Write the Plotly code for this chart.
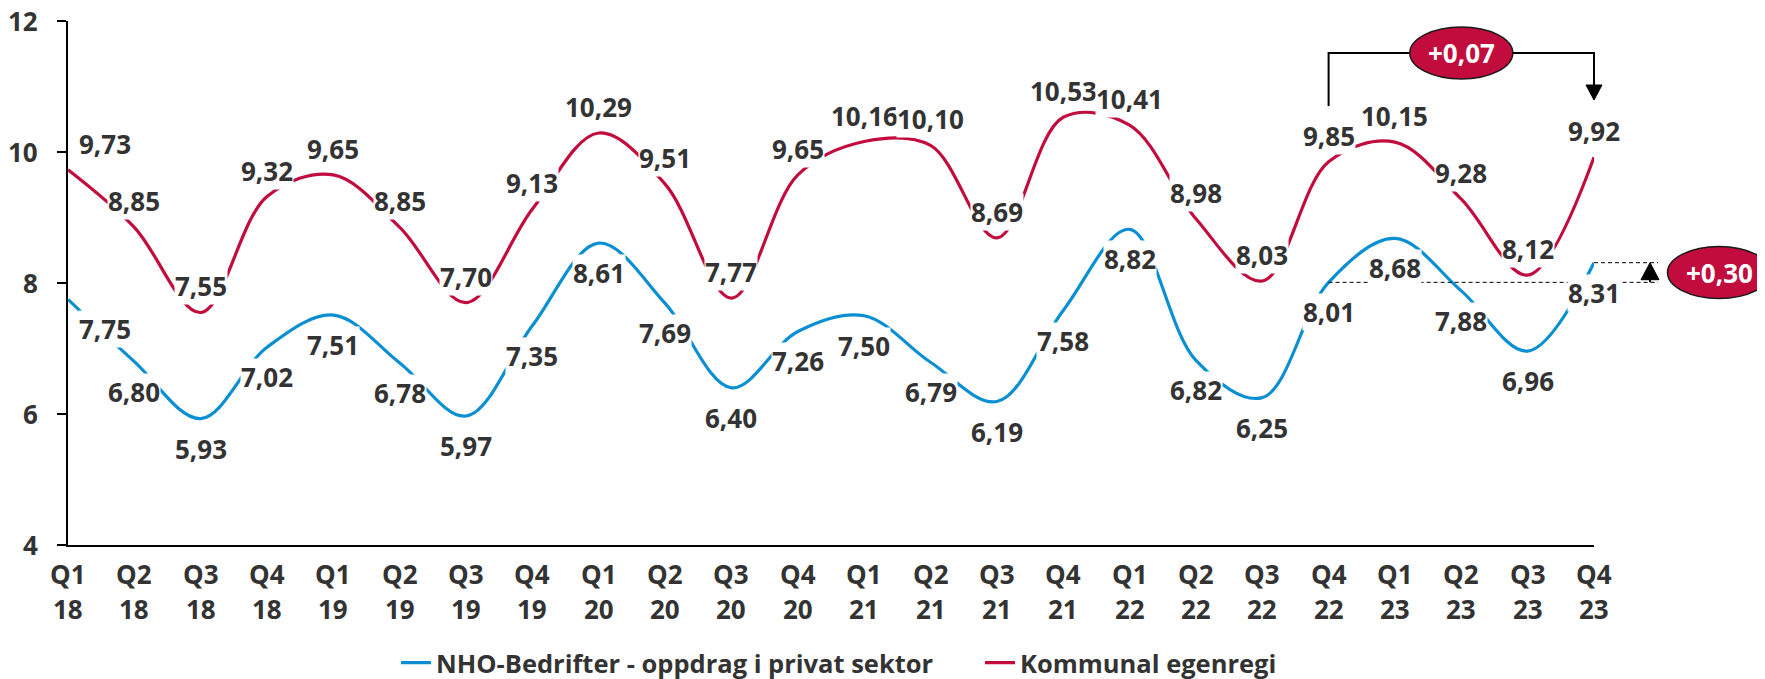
import plotly.graph_objects as go

# ---------------- data ----------------
quarters = ["Q1", "Q2", "Q3", "Q4"]
years = ["18", "19", "20", "21", "22", "23"]
tick_q = [q for y in years for q in quarters]
tick_y = [y for y in years for q in quarters]

nho_privat = [7.75, 6.80, 5.93, 7.02, 7.51, 6.78, 5.97, 7.35, 8.61, 7.69, 6.40, 7.26,
              7.50, 6.79, 6.19, 7.58, 8.82, 6.82, 6.25, 8.01, 8.68, 7.88, 6.96, 8.31]
kommunal = [9.73, 8.85, 7.55, 9.32, 9.65, 8.85, 7.70, 9.13, 10.29, 9.51, 7.77, 9.65,
            10.16, 10.10, 8.69, 10.53, 10.41, 8.98, 8.03, 9.85, 10.15, 9.28, 8.12, 9.92]

series_names = ["NHO-Bedrifter - oppdrag i privat sektor", "Kommunal egenregi"]
y_ticks = [4, 6, 8, 10, 12]

# ---------------- styles ----------------
BLUE = "#0A8FD2"
RED = "#C20C3E"
TXT = "#333333"
FONT = "Open Sans"
W, H = 1765, 679
OFF = 8                       # page body margin
SCR_L, SCR_T = 68, 21         # plot area corner on screen
PW, PH = 1526, 524
ML, MT = SCR_L - OFF, SCR_T - OFF
MR, MB = W - ML - PW, H - MT - PH

xs = list(range(len(tick_q)))
X0, X1 = 0, len(xs) - 1
Y0, Y1 = y_ticks[0], y_ticks[-1]


def fmt(v):
    return f"{v:.2f}".replace(".", ",")


def px(x, dx=0.0):
    return (x - X0) / (X1 - X0) + dx / PW


def py(v, dy=0.0):
    return (v - Y0) / (Y1 - Y0) + dy / PH


def x_from_pixel(p):
    return X0 + (p - SCR_L) / PW * (X1 - X0)


def v_from_pixel(p):
    return Y1 - (p - SCR_T) / PH * (Y1 - Y0)


fig = go.Figure()
fig.add_trace(go.Scatter(x=xs, y=nho_privat, name=series_names[0], mode="lines",
                         line=dict(color=BLUE, width=3.2, shape="spline", smoothing=1.0)))
fig.add_trace(go.Scatter(x=xs, y=kommunal, name=series_names[1], mode="lines",
                         line=dict(color=RED, width=3.2, shape="spline", smoothing=1.0)))

label_font = dict(family=FONT, size=26, color=TXT, weight="bold")
annotations = []
# data labels
for i, (b, r) in enumerate(zip(nho_privat, kommunal)):
    xsh = 37 if i == 0 else 0
    annotations.append(dict(x=i, y=r, xref="x", yref="y", text=fmt(r), showarrow=False,
                            xanchor="center", yanchor="middle",
                            yshift=26, xshift=xsh, bgcolor="white", borderpad=0, font=label_font))
    annotations.append(dict(x=i, y=b, xref="x", yref="y", text=fmt(b), showarrow=False,
                            xanchor="center", yanchor="middle",
                            yshift=-30, xshift=xsh, bgcolor="white", borderpad=0, font=label_font))

# category labels (two rows)
for i, (q, y) in enumerate(zip(tick_q, tick_y)):
    annotations.append(dict(x=i, y=0, xref="x", yref="paper", text=q, showarrow=False,
                            xanchor="center", yanchor="middle", yshift=-29, font=label_font))
    annotations.append(dict(x=i, y=0, xref="x", yref="paper", text=y, showarrow=False,
                            xanchor="center", yanchor="middle", yshift=-64, font=label_font))

# value axis labels
for v in y_ticks:
    annotations.append(dict(x=0, y=v, xref="paper", yref="y", text=str(v), showarrow=False,
                            xanchor="right", yanchor="middle", xshift=-28, font=label_font))

shapes = []
# ---- bracket for kommunal change (Q4 22 -> Q4 23) ----
i_a, i_b = 19, 23
bracket_v = v_from_pixel(53)
left_end_v = v_from_pixel(106)
tip_v = v_from_pixel(100)
arrow_h, arrow_w = 15, 16
shapes.append(dict(type="path", xref="paper", yref="paper",
                   path=f"M{px(i_a)},{py(left_end_v)} L{px(i_a)},{py(bracket_v)} "
                        f"L{px(i_b)},{py(bracket_v)} L{px(i_b)},{py(tip_v, arrow_h)}",
                   line=dict(color="black", width=2), layer="above"))
shapes.append(dict(type="path", xref="paper", yref="paper",
                   path=f"M{px(i_b, -arrow_w / 2)},{py(tip_v, arrow_h)} L{px(i_b, arrow_w / 2)},{py(tip_v, arrow_h)} "
                        f"L{px(i_b)},{py(tip_v)} Z",
                   fillcolor="black", line=dict(color="black", width=1), layer="above"))
mid = (i_a + i_b) / 2
EW, EH = 103, 52
shapes.append(dict(type="circle", xref="paper", yref="paper",
                   x0=px(mid, -EW / 2), x1=px(mid, EW / 2),
                   y0=py(bracket_v, -EH / 2), y1=py(bracket_v, EH / 2),
                   fillcolor=RED, line=dict(color="#1a1a1a", width=1.5), layer="above"))
d_red = kommunal[i_b] - kommunal[i_a]
annotations.append(dict(x=px(mid), y=py(bracket_v), xref="paper", yref="paper",
                        xanchor="center", yanchor="middle",
                        text=("+" if d_red >= 0 else "") + fmt(d_red), showarrow=False,
                        font=dict(family=FONT, size=26, color="white", weight="bold")))

# ---- dashed guides for NHO change ----
x_right = x_from_pixel(1658)
x_arrow = x_from_pixel(1650)
shapes.append(dict(type="line", xref="paper", yref="paper",
                   x0=px(i_a), x1=px(x_right), y0=py(nho_privat[i_a]), y1=py(nho_privat[i_a]),
                   line=dict(color="black", width=1, dash="4px,3px"), layer="above"))
shapes.append(dict(type="line", xref="paper", yref="paper",
                   x0=px(i_b), x1=px(x_right), y0=py(nho_privat[i_b]), y1=py(nho_privat[i_b]),
                   line=dict(color="black", width=1, dash="4px,3px"), layer="above"))
shapes.append(dict(type="line", xref="paper", yref="paper",
                   x0=px(x_arrow), x1=px(x_arrow), y0=py(nho_privat[i_a]), y1=py(nho_privat[i_b], -16),
                   line=dict(color="black", width=2), layer="above"))
shapes.append(dict(type="path", xref="paper", yref="paper",
                   path=f"M{px(x_arrow, -9)},{py(nho_privat[i_b], -17)} "
                        f"L{px(x_arrow, 9)},{py(nho_privat[i_b], -17)} "
                        f"L{px(x_arrow)},{py(nho_privat[i_b])} Z",
                   fillcolor="black", line=dict(color="black", width=1), layer="above"))
e2x = x_from_pixel(1719)
e2v = (nho_privat[i_a] + nho_privat[i_b]) / 2
shapes.append(dict(type="circle", xref="paper", yref="paper",
                   x0=px(e2x, -EW / 2), x1=px(e2x, EW / 2),
                   y0=py(e2v, -EH / 2), y1=py(e2v, EH / 2),
                   fillcolor=RED, line=dict(color="#1a1a1a", width=1.5), layer="above"))
d_blue = nho_privat[i_b] - nho_privat[i_a]
annotations.append(dict(x=px(e2x), y=py(e2v), xref="paper", yref="paper",
                        xanchor="center", yanchor="middle",
                        text=("+" if d_blue >= 0 else "") + fmt(d_blue), showarrow=False,
                        font=dict(family=FONT, size=26, color="white", weight="bold")))

fig.update_layout(
    width=W, height=H,
    margin=dict(l=ML, r=MR, t=MT, b=MB, pad=0, autoexpand=False),
    paper_bgcolor="white", plot_bgcolor="white",
    font=dict(family=FONT, color=TXT, weight="bold"),
    showlegend=True,
    legend=dict(orientation="h", x=(396 - SCR_L) / PW, xanchor="left",
                y=-(663 - SCR_T - PH) / PH, yanchor="middle",
                font=dict(family=FONT, size=25.5, color=TXT, weight="bold"),
                entrywidth=539, entrywidthmode="pixels", traceorder="normal"),
    annotations=annotations,
    shapes=shapes,
)
fig.update_xaxes(range=[X0, X1], tickmode="array", tickvals=xs, showticklabels=False,
                 showgrid=False, zeroline=False, showline=True, linecolor="black", linewidth=2,
                 ticks="", automargin=False)
fig.update_yaxes(range=[Y0, Y1], tickmode="array", tickvals=y_ticks, automargin=False,
                 showticklabels=False,
                 showgrid=False, zeroline=False, showline=True, linecolor="black", linewidth=2,
                 ticks="outside", ticklen=9, tickwidth=2, tickcolor="black")

fig.write_html("out.html")
